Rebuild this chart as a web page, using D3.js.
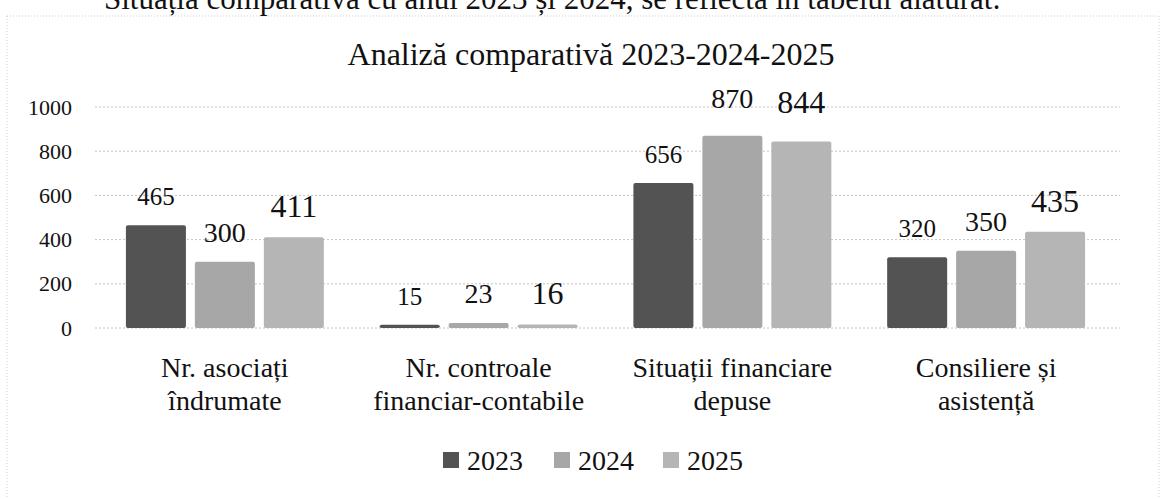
<!DOCTYPE html>
<html>
<head>
<meta charset="utf-8">
<script src="https://cdn.jsdelivr.net/npm/d3@7"></script>
<style>
  html, body { margin: 0; padding: 0; background: #fff; }
  svg { display: block; }
  svg text { font-family: "Liberation Serif", "Times New Roman", serif; }
</style>
</head>
<body>
<svg id="chart" width="1162" height="499"></svg>
<script>
// data
const categories = [
  ["Nr. asociați", "îndrumate"],
  ["Nr. controale", "financiar-contabile"],
  ["Situații financiare", "depuse"],
  ["Consiliere și", "asistență"]
]
const years = ["2023", "2024", "2025"]
const values2023 = [465, 15, 656, 320]
const values2024 = [300, 23, 870, 350]
const values2025 = [411, 16, 844, 435]
const yTicks = [0, 200, 400, 600, 800, 1000]

const series = [values2023, values2024, values2025]
const colors = { "2023": "#535353", "2024": "#a7a7a7", "2025": "#b5b5b5" }
const labelSize = { "2023": 25, "2024": 28, "2025": 32 }
const serif = "Liberation Serif, Times New Roman, serif"

const svg = d3.select("#chart")

// faint outline of the chart frame from the scan
svg.append("rect")
  .attr("x", 7).attr("y", 16)
  .attr("width", 1152).attr("height", 500)
  .attr("fill", "none")
  .attr("stroke", "#cfcfcf")
  .attr("stroke-dasharray", "1,2")

// clipped line of body text above the chart
svg.append("text")
  .attr("x", 104).attr("y", 9)
  .attr("font-family", serif)
  .attr("font-size", 31)
  .attr("fill", "#111")
  .text("Situația comparativă cu anul 2023 și 2024, se reflectă în tabelul alăturat:")

// title
svg.append("text")
  .attr("x", 591).attr("y", 65)
  .attr("text-anchor", "middle")
  .attr("font-family", serif)
  .attr("font-size", 32)
  .attr("fill", "#111")
  .text("Analiză comparativă 2023-2024-2025")

// scales
const y = d3.scaleLinear().domain([0, 1000]).range([328, 107])
const x0 = d3.scaleBand()
  .domain(d3.range(categories.length))
  .range([98, 1113])
  .paddingInner(0.22)
  .paddingOuter(0.11)
const x1 = d3.scaleBand()
  .domain(years)
  .range([0, x0.bandwidth()])
  .paddingInner(0.13)
  .paddingOuter(0)

// gridlines
svg.append("g")
  .selectAll("line")
  .data(yTicks)
  .join("line")
  .attr("x1", 95).attr("x2", 1120)
  .attr("y1", d => y(d)).attr("y2", d => y(d))
  .attr("stroke", "#c4c4c4")
  .attr("stroke-dasharray", "2,2")

// y axis labels
const yAxis = svg.append("g")
  .attr("transform", "translate(84,0)")
  .call(d3.axisLeft(y).tickValues(yTicks).tickFormat(d3.format("d")).tickSize(0).tickPadding(12))
yAxis.attr("font-family", serif)
yAxis.select(".domain").remove()
yAxis.selectAll("text")
  .attr("font-family", serif)
  .attr("font-size", 22)
  .attr("fill", "#111")

// bars
const rows = categories.map((c, i) => years.map((yr, j) => ({ cat: i, year: yr, value: series[j][i] })))

const groups = svg.append("g")
  .selectAll("g")
  .data(rows)
  .join("g")
  .attr("transform", (d, i) => `translate(${x0(i)},0)`)

groups.selectAll("rect")
  .data(d => d)
  .join("rect")
  .attr("x", d => x1(d.year))
  .attr("y", d => y(d.value))
  .attr("width", x1.bandwidth())
  .attr("height", d => y(0) - y(d.value))
  .attr("rx", 2)
  .attr("fill", d => colors[d.year])

// value labels
groups.selectAll("text")
  .data(d => d)
  .join("text")
  .attr("x", d => x1(d.year) + x1.bandwidth() / 2)
  .attr("y", d => y(d.value) - (d.value > 800 ? 28 : 20))
  .attr("text-anchor", "middle")
  .attr("font-family", serif)
  .attr("font-size", d => labelSize[d.year])
  .attr("fill", "#111")
  .text(d => d.value)

// category labels (two lines)
const xLabels = svg.append("g")
  .selectAll("text")
  .data(categories)
  .join("text")
  .attr("x", (d, i) => x0(i) + x0.bandwidth() / 2)
  .attr("y", 377)
  .attr("text-anchor", "middle")
  .attr("font-family", serif)
  .attr("font-size", 28)
  .attr("fill", "#111")

xLabels.selectAll("tspan")
  .data(d => d)
  .join("tspan")
  .attr("x", function () { return this.parentNode.getAttribute("x") })
  .attr("dy", (d, i) => i === 0 ? 0 : 33)
  .text(d => d)

// legend
const legendX = [443, 554, 663]
const legend = svg.append("g")
  .selectAll("g")
  .data(years)
  .join("g")
  .attr("transform", (d, i) => `translate(${legendX[i]},0)`)

legend.append("rect")
  .attr("x", 0).attr("y", 452)
  .attr("width", 16).attr("height", 16)
  .attr("fill", d => colors[d])

legend.append("text")
  .attr("x", 24).attr("y", 470)
  .attr("font-family", serif)
  .attr("font-size", 28)
  .attr("fill", "#111")
  .text(d => d)
</script>
</body>
</html>
